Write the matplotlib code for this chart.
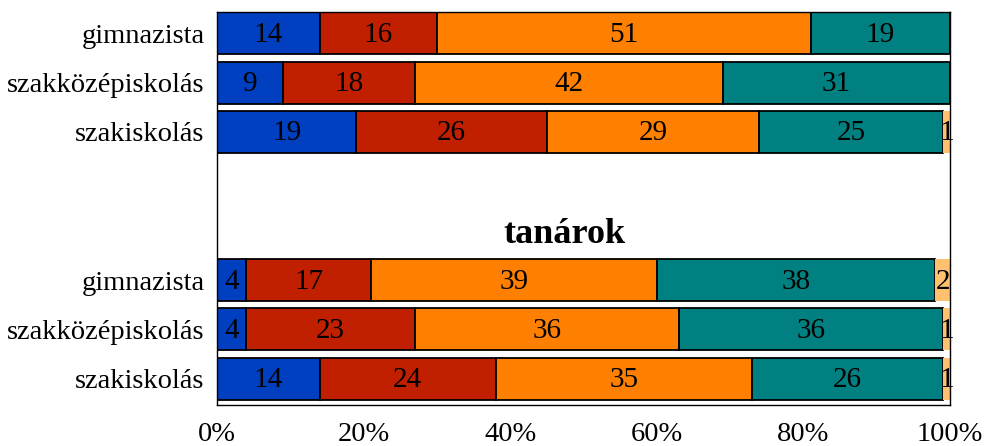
import matplotlib
matplotlib.use("Agg")
import matplotlib.pyplot as plt
import numpy as np

plt.rcParams['font.family'] = ['Liberation Serif', 'DejaVu Serif']

labels = ["gimnazista", "szakközépiskolás", "szakiskolás",
          "gimnazista", "szakközépiskolás", "szakiskolás"]
positions = [0, 1, 2, 5, 6, 7]

s1 = [14, 9, 19, 4, 4, 14]
s2 = [16, 18, 26, 17, 23, 24]
s3 = [51, 42, 29, 39, 36, 35]
s4 = [19, 31, 25, 38, 36, 26]
s5 = [0, 0, 1, 2, 1, 1]

series = [s1, s2, s3, s4, s5]
colors = ["#0040c0", "#c02000", "#ff8000", "#008080", "#ffc070"]
edges = ["black", "black", "black", "black", "none"]

fig = plt.figure(figsize=(9.85, 4.46), dpi=100)
ax = fig.add_axes([0.2203, 0.092, 0.7442, 0.881])

left = np.zeros(len(labels))
for vals, col, ec in zip(series, colors, edges):
    vals = np.array(vals, dtype=float)
    ax.barh(positions, vals, left=left, height=0.85, color=col,
            edgecolor=ec, linewidth=1.3)
    for y, l, v in zip(positions, left, vals):
        if v > 0:
            ax.text(l + v / 2, y + 0.03, str(int(v)), ha="center",
                    va="center", fontsize=21)
    left += vals

ax.text(47.4, 4.07, "tanárok", ha="center", va="center", fontsize=26,
        fontweight="bold")

ax.set_xlim(0, 100)
ax.set_ylim(7.53, -0.43)
ax.set_yticks(positions)
ax.set_yticklabels(labels, fontsize=20.5)
ax.set_xticks([0, 20, 40, 60, 80, 100])
ax.set_xticklabels(["0%", "20%", "40%", "60%", "80%", "100%"], fontsize=20.5)
ax.tick_params(length=0, pad=9)
ax.tick_params(axis="x", pad=12)
for sp in ax.spines.values():
    sp.set_linewidth(1.0)
    sp.set_color("black")

fig.savefig("out.png", dpi=100)
